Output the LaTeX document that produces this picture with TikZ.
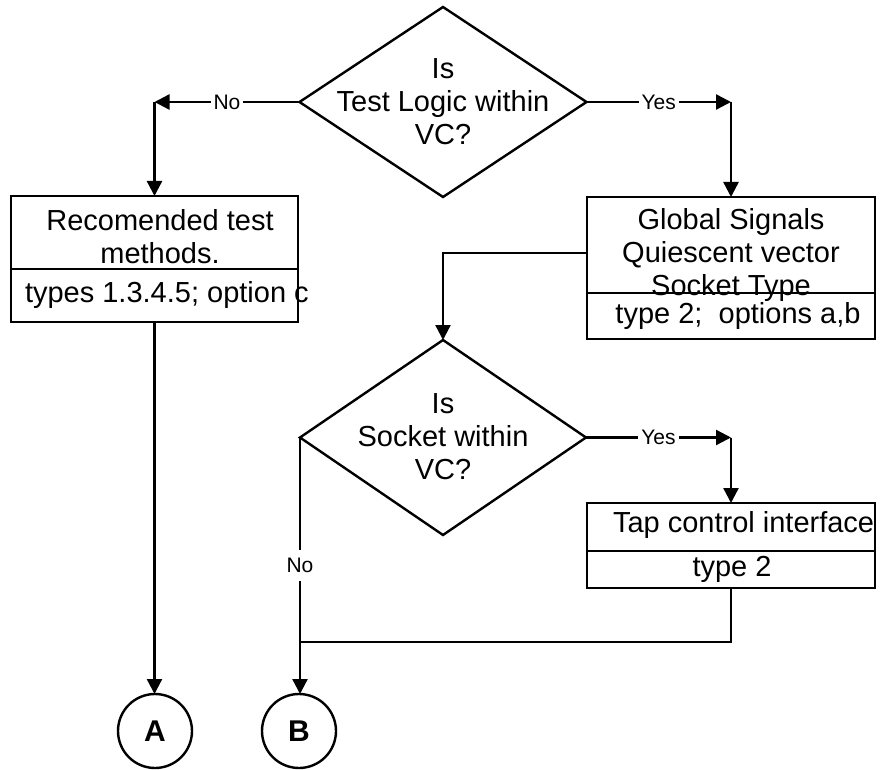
\documentclass[tikz,border=0pt]{standalone}
\usepackage{fontspec}
\setmainfont{Liberation Sans}
\usetikzlibrary{shapes.geometric,arrows.meta}
\begin{document}
\begin{tikzpicture}[x=1pt,y=-1pt,
  line width=2.4pt,
  every node/.style={inner sep=0pt, outer sep=0pt},
  dia/.style={diamond, draw},
  box/.style={draw, rectangle, minimum width=288pt},
  txt/.style={font=\fontsize{29}{33}\selectfont, align=center},
  lbl/.style={font=\fontsize{21}{24}\selectfont, fill=white, inner xsep=3pt, inner ysep=8pt},
  conn/.style={draw, circle, minimum size=74pt, font=\fontsize{30}{34}\selectfont\bfseries},
  arr/.style={-{Triangle[width=15pt,length=15pt]}}
]
\useasboundingbox (0,0) rectangle (892,770);

% texts
\node[txt] (t1) at (443,102) {Is\\Test Logic within\\VC?};
\node[txt] (t2) at (160,237) {Recomended test\\methods.};
\node[txt, anchor=west] (t3) at (25,295) {types 1.3.4.5; option c};
\node[txt] (t4) at (731,255) {Global Signals\\Quiescent vector\\Socket Type};
\node[txt] (t5) at (738,316) {type 2;\ \ options a,b};
\node[txt] (t6) at (443,437) {Is\\Socket within\\VC?};
\node[txt, anchor=west] (t7) at (613,525) {Tap control interface};
\node[txt] (t8) at (732,569) {type 2};

% shapes
\node[dia, minimum width=287pt, minimum height=190pt] (d1) at (443,102) {};
\node[dia, minimum width=286pt, minimum height=195pt] (d2) at (443,437.5) {};
\node[box, minimum width=287pt, minimum height=73pt] (b1a) at (154.5,232.5) {};
\node[box, minimum width=287pt, minimum height=53pt] (b1b) at (154.5,295.5) {};
\node[box, minimum height=96pt] (b2a) at (731,245) {};
\node[box, minimum height=46pt] (b2b) at (731,316) {};
\node[box, minimum height=48pt] (b3a) at (731,527) {};
\node[box, minimum height=37pt] (b3b) at (731,569.5) {};
\node[conn] (A) at (155,731) {A};
\node[conn] (B) at (299,731) {B};

% connectors
\coordinate (c1) at (d1.west -| b1a.north);
\coordinate (c2) at (d1.east -| b2a.north);
\coordinate (c3) at (d2.east -| b3a.north);
\coordinate (g) at (587,253);
\coordinate (j) at (300,642);

\draw[arr] (d1.west) -- node[lbl]{No} (c1);
\draw[arr] (c1) -- (b1a.north);
\draw[arr] (d1.east) -- node[lbl]{Yes} (c2);
\draw[arr] (c2) -- (b2a.north);
\draw[arr] (g) -| (d2.north);
\draw[arr] (d2.east) -- node[lbl]{Yes} (c3);
\draw[arr] (c3) -- (b3a.north);
\draw[arr] (b1b.south) -- (b1b.south |- A.north);
\draw[arr] (d2.west) -- node[lbl]{No} (d2.west |- B.north);
\draw (b3b.south) |- (j);
\end{tikzpicture}
\end{document}
